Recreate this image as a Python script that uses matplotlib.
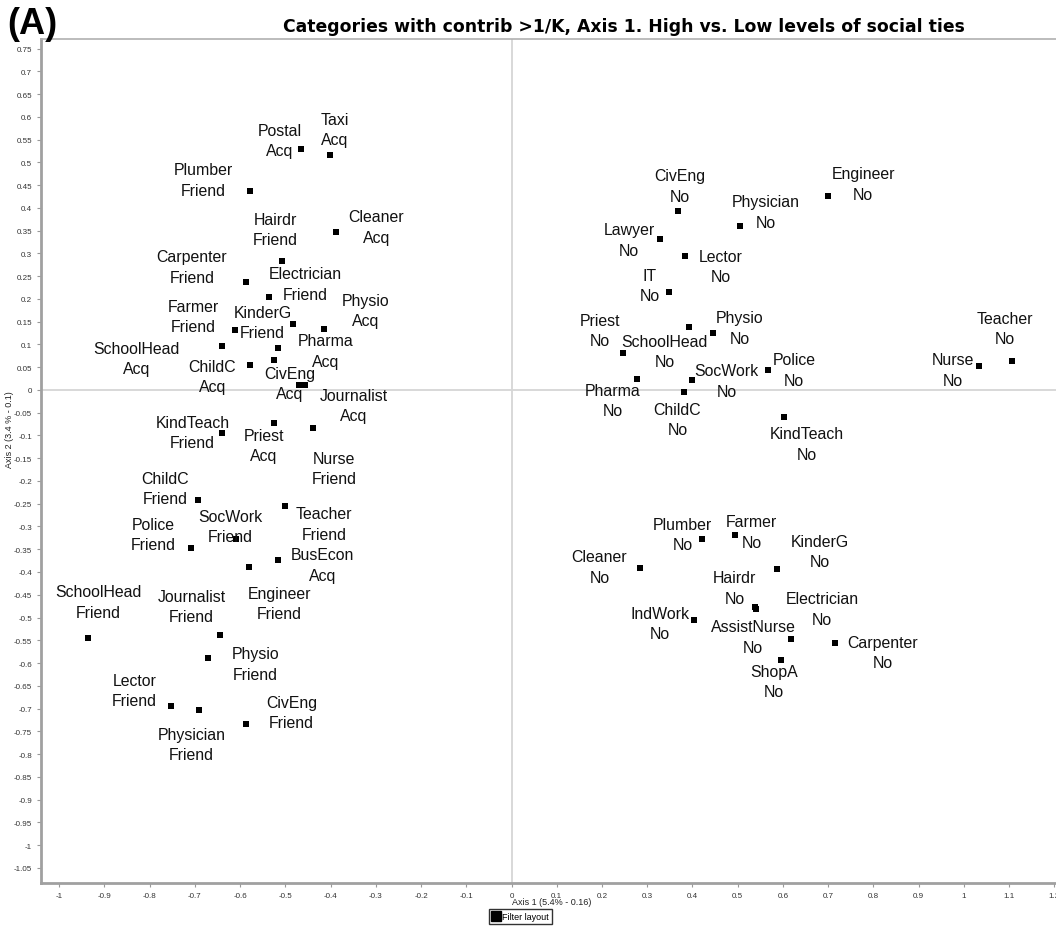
import matplotlib
matplotlib.use("Agg")
import matplotlib.pyplot as plt
from matplotlib.ticker import MultipleLocator, FuncFormatter
from matplotlib.lines import Line2D
import matplotlib.transforms as mtransforms

# Category names (two-line labels: modality / level of ties)
names = [
    "Postal\nAcq", "Taxi\nAcq", "Plumber\nFriend", "Cleaner\nAcq", "Hairdr\nFriend",
    "Carpenter\nFriend", "Electrician\nFriend", "KinderG\nFriend", "Physio\nAcq",
    "Farmer\nFriend", "Pharma\nAcq", "SchoolHead\nAcq", "ChildC\nAcq", "CivEng\nAcq",
    "Journalist\nAcq", "",
    "Priest\nAcq", "KindTeach\nFriend", "Nurse\nFriend", "ChildC\nFriend",
    "Teacher\nFriend", "SocWork\nFriend", "Police\nFriend", "BusEcon\nAcq",
    "Engineer\nFriend", "SchoolHead\nFriend", "Journalist\nFriend", "Physio\nFriend",
    "Lector\nFriend", "Physician\nFriend", "CivEng\nFriend",
    "Engineer\nNo", "CivEng\nNo", "Physician\nNo", "Lawyer\nNo", "Lector\nNo",
    "IT\nNo", "SchoolHead\nNo", "Physio\nNo", "Priest\nNo", "Police\nNo",
    "Pharma\nNo", "SocWork\nNo", "ChildC\nNo", "KindTeach\nNo", "Nurse\nNo",
    "Teacher\nNo",
    "Plumber\nNo", "Farmer\nNo", "Cleaner\nNo", "KinderG\nNo", "Hairdr\nNo",
    "AssistNurse\nNo", "IndWork\nNo", "Electrician\nNo", "Carpenter\nNo", "ShopA\nNo",
]

# Coordinates on axis 1 and axis 2
axis1 = [
    -0.465, -0.401, -0.577, -0.387, -0.508,
    -0.587, -0.535, -0.484, -0.415,
    -0.612, -0.517, -0.639, -0.577, -0.524,
    -0.457, -0.470,
    -0.525, -0.639, -0.439, -0.693,
    -0.501, -0.609, -0.709, -0.517,
    -0.581, -0.937, -0.645, -0.670,
    -0.752, -0.690, -0.586,
    0.700, 0.367, 0.505, 0.328, 0.383,
    0.348, 0.392, 0.445, 0.246, 0.567,
    0.277, 0.398, 0.382, 0.603, 1.033,
    1.106,
    0.422, 0.493, 0.283, 0.586, 0.539,
    0.541, 0.403, 0.618, 0.714, 0.596,
]
axis2 = [
    0.529, 0.516, 0.437, 0.347, 0.283,
    0.237, 0.204, 0.144, 0.135,
    0.131, 0.092, 0.096, 0.056, 0.065,
    0.010, 0.012,
    -0.073, -0.095, -0.084, -0.241,
    -0.255, -0.327, -0.348, -0.374,
    -0.390, -0.545, -0.539, -0.589,
    -0.694, -0.704, -0.733,
    0.426, 0.393, 0.360, 0.332, 0.294,
    0.216, 0.138, 0.125, 0.082, 0.044,
    0.025, 0.022, -0.005, -0.059, 0.053,
    0.063,
    -0.328, -0.319, -0.391, -0.394, -0.477,
    -0.481, -0.505, -0.547, -0.555, -0.594,
]

# Label placement relative to each point (pixels, x right / y up)
label_offsets = [
    (-21, 9), (5, 26), (-47, 11), (40, 5), (-6, 32),
    (-54, 15), (36, 13), (-30, 2), (42, 18),
    (-41, 14), (48, -3), (-86, -12), (-38, -12), (15, -23),
    (49, -20), (0, 0),
    (-10, -22), (-30, 1), (21, -40), (-33, 11),
    (39, -18), (-6, 12), (-38, 14), (45, -5),
    (31, -36), (11, 36), (-28, 29), (47, -6),
    (-37, 15), (-8, -34), (45, 11),
    (35, 12), (2, 25), (26, 14), (-31, -1), (36, -10),
    (-19, 6), (-24, -24), (27, 5), (-23, 22), (26, 0),
    (-24, -22), (35, -1), (-7, -27), (22, -27), (-26, -4),
    (-7, 33),
    (-20, 5), (17, 3), (-40, 1), (43, 18), (-21, 19),
    (-3, -28), (-34, -4), (31, 30), (48, -10), (-7, -21),
]

title = "Categories with contrib >1/K, Axis 1. High vs. Low levels of social ties"
xlabel = "Axis 1 (5.4% - 0.16)"
ylabel = "Axis 2 (3.4 % - 0.1)"

W, H = 1056, 929
fig = plt.figure(figsize=(W / 100, H / 100), dpi=100)
ax = fig.add_axes([41 / W, 1 - 884 / H, (W - 41) / W, (884 - 40) / H])
ax.set_xlim(-1.04, 1.2035)
ax.set_ylim(-1.0835, 0.7714)

ax.axhline(0, color="#d6d6d6", lw=1.3, zorder=1)
ax.axvline(0, color="#d6d6d6", lw=1.3, zorder=1)

ax.scatter(axis1, axis2, marker="s", s=18, color="black", linewidths=0, zorder=3)

for name, xv, yv, off in zip(names, axis1, axis2, label_offsets):
    if not name:
        continue
    ax.annotate(name, (xv, yv), xytext=off, textcoords="offset pixels",
                ha="center", va="center", fontsize=11.4, family="Liberation Sans",
                linespacing=1.45, color="#111111", zorder=4)

fmt = FuncFormatter(lambda v, p: f"{round(v, 2):g}" if abs(v) > 1e-9 else "0")
ax.xaxis.set_major_locator(MultipleLocator(0.1))
ax.yaxis.set_major_locator(MultipleLocator(0.05))
ax.xaxis.set_major_formatter(fmt)
ax.yaxis.set_major_formatter(fmt)
ax.tick_params(axis="both", labelsize=5.8, labelcolor="#333333", color="#999999",
               length=3, width=0.8, direction="out")
for lab in ax.get_xticklabels() + ax.get_yticklabels():
    lab.set_family("Liberation Sans")

ax.spines["right"].set_visible(False)
ax.spines["left"].set_color("#a0a0a0")
ax.spines["left"].set_linewidth(2)
ax.spines["bottom"].set_color("#a0a0a0")
ax.spines["bottom"].set_linewidth(2)
ax.spines["top"].set_color("#b0b0b0")
ax.spines["top"].set_linewidth(1.2)

# Axis titles anchored at the origin lines
trans_x = mtransforms.blended_transform_factory(ax.transData, fig.transFigure)
ax.text(0, 1 - 903 / H, xlabel, transform=trans_x, ha="left", va="center",
        fontsize=6.5, family="Liberation Sans", color="#222222")
trans_y = mtransforms.blended_transform_factory(fig.transFigure, ax.transData)
ax.text(10 / W, 0, ylabel, transform=trans_y, rotation=90, ha="center", va="top",
        fontsize=6.5, family="Liberation Sans", color="#222222")

fig.text(624 / W, 1 - 27 / H, title, ha="center", va="center",
         fontsize=12.4, fontweight="bold", family="DejaVu Sans")
fig.text(7 / W, 1 - 24 / H, "(A)", ha="left", va="center",
         fontsize=26, fontweight="bold", family="Liberation Sans")

handle = Line2D([], [], marker="s", color="black", linestyle="none", markersize=7)
fig.legend([handle], ["Filter layout"], loc="upper left",
           bbox_to_anchor=(489 / W, 1 - 910 / H), frameon=True,
           fancybox=False, edgecolor="black", handlelength=0.8, handletextpad=0.3,
           borderpad=0.35, borderaxespad=0, prop={"family": "Liberation Sans", "size": 6.5})

fig.savefig("out.png", dpi=100)
